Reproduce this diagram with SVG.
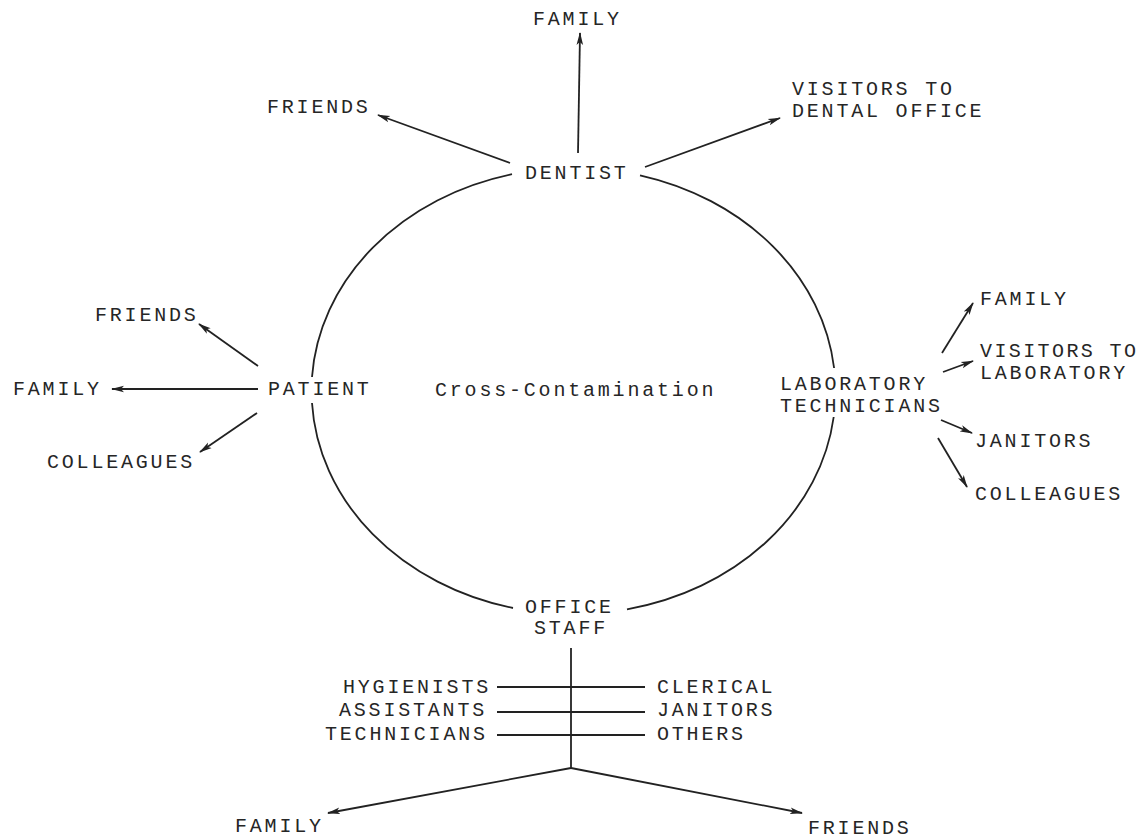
<svg xmlns="http://www.w3.org/2000/svg" width="1139" height="840" viewBox="0 0 1139 840">
<style>
text{font-family:"Liberation Mono","DejaVu Sans Mono",monospace;font-size:20px;letter-spacing:2.8px;fill:#262626}
.ln{stroke:#222;stroke-width:1.8;fill:none}
.ar{stroke:#222;stroke-width:1.8;fill:none;marker-end:url(#ah)}
</style>
<defs>
<marker id="ah" viewBox="0 0 13 8" refX="12" refY="4" markerWidth="13" markerHeight="8" markerUnits="userSpaceOnUse" orient="auto">
<path d="M0,0.7 L13,4 L0,7.3 L3,4 Z" fill="#222"/>
</marker>
</defs>
<rect width="1139" height="840" fill="#fff"/>
<g id="connectors">
<path class="ln" d="M640,175.3 A262,223 0 0 1 834.1,368"/>
<path class="ln" d="M833.7,417 A262,223 0 0 1 627,609.3"/>
<path class="ln" d="M513,608 A262,223 0 0 1 312,403"/>
<path class="ln" d="M312,377 A262,223 0 0 1 512,174.2"/>
<line class="ar" x1="578" y1="153" x2="580" y2="33"/>
<line class="ar" x1="510" y1="163" x2="378" y2="115"/>
<line class="ar" x1="645" y1="167" x2="780" y2="118"/>
<line class="ar" x1="258" y1="366" x2="199" y2="324"/>
<line class="ar" x1="258" y1="389" x2="112" y2="389"/>
<line class="ar" x1="257" y1="413" x2="200" y2="452"/>
<line class="ar" x1="942" y1="353" x2="973" y2="303"/>
<line class="ar" x1="943" y1="372" x2="973" y2="361"/>
<line class="ar" x1="941" y1="420" x2="972" y2="433"/>
<line class="ar" x1="938" y1="438" x2="967" y2="487"/>
<line class="ln" x1="571" y1="648" x2="571" y2="768"/>
<line class="ln" x1="497" y1="687" x2="645" y2="687"/>
<line class="ln" x1="497" y1="712" x2="645" y2="712"/>
<line class="ln" x1="497" y1="735" x2="645" y2="735"/>
<line class="ar" x1="571" y1="768" x2="328" y2="813"/>
<line class="ar" x1="571" y1="768" x2="802" y2="813"/>
</g>
<g id="node-dentist"><text x="525" y="179">DENTIST</text></g>
<g id="node-dentist-family"><text x="533" y="25">FAMILY</text></g>
<g id="node-dentist-friends"><text x="267" y="113">FRIENDS</text></g>
<g id="node-dentist-visitors"><text x="792" y="95">VISITORS TO</text><text x="792" y="117">DENTAL OFFICE</text></g>
<g id="node-patient"><text x="268" y="395">PATIENT</text></g>
<g id="node-patient-friends"><text x="95" y="321">FRIENDS</text></g>
<g id="node-patient-family"><text x="13" y="395">FAMILY</text></g>
<g id="node-patient-colleagues"><text x="47" y="468">COLLEAGUES</text></g>
<g id="node-center"><text x="435" y="396">Cross-Contamination</text></g>
<g id="node-lab"><text x="780" y="390">LABORATORY</text><text x="780" y="412">TECHNICIANS</text></g>
<g id="node-lab-family"><text x="980" y="305">FAMILY</text></g>
<g id="node-lab-visitors"><text x="980" y="357" style="letter-spacing:2.4px">VISITORS TO</text><text x="980" y="379">LABORATORY</text></g>
<g id="node-lab-janitors"><text x="975" y="447">JANITORS</text></g>
<g id="node-lab-colleagues"><text x="975" y="500">COLLEAGUES</text></g>
<g id="node-office"><text x="525" y="613">OFFICE</text><text x="534" y="634">STAFF</text></g>
<g id="node-staff-left">
<text x="343" y="693">HYGIENISTS</text>
<text x="339" y="716">ASSISTANTS</text>
<text x="325" y="740">TECHNICIANS</text>
</g>
<g id="node-staff-right">
<text x="657" y="693">CLERICAL</text>
<text x="657" y="716">JANITORS</text>
<text x="657" y="740">OTHERS</text>
</g>
<g id="node-office-family"><text x="235" y="832">FAMILY</text></g>
<g id="node-office-friends"><text x="808" y="834">FRIENDS</text></g>
</svg>
